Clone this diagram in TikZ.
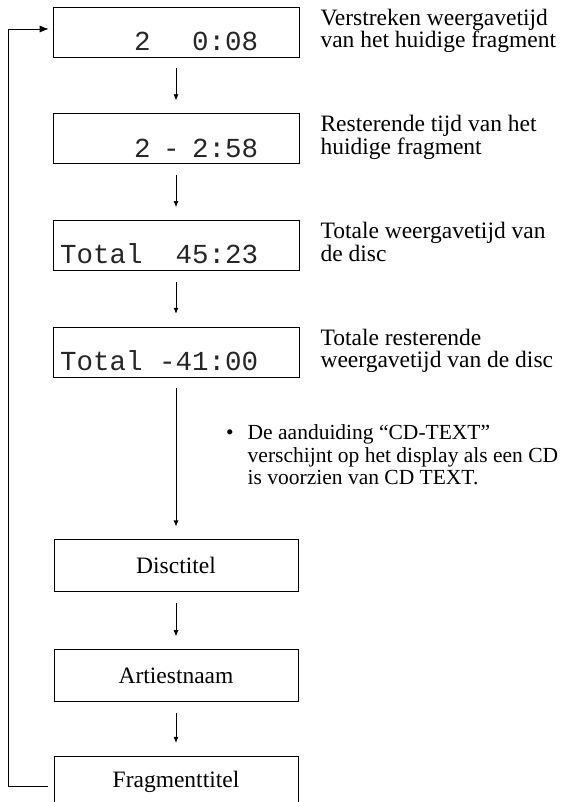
\documentclass[tikz,border=0pt]{standalone}
\usepackage{fontspec}
\setmainfont{Liberation Serif}
\newfontfamily\lcdfont{Liberation Mono}
\usetikzlibrary{positioning,arrows.meta}

\tikzset{
  lcd/.style={draw, line width=0.7pt, minimum width=246pt, minimum height=50pt, inner sep=0pt},
  lcdtext/.style={anchor=base east, inner sep=0pt, text=black!85, font=\lcdfont\fontsize{27.5}{27.5}\selectfont},
  titlebox/.style={draw, line width=0.7pt, minimum width=244pt, minimum height=52pt, inner sep=0pt, font=\fontsize{23.5}{23.5}\selectfont},
  info/.style={align=left, inner sep=0pt, font=\fontsize{23.5}{22.5}\selectfont},
  flow/.style={-{Latex[length=6pt,width=5pt]}, line width=0.7pt, shorten <=11pt, shorten >=13pt},
}

\begin{document}
\begin{tikzpicture}[x=1pt,y=-1pt,node distance=56pt]
\useasboundingbox (0,0) rectangle (561,802);
\clip (0,0) rectangle (561,802);
% display boxes
\node[lcd] (d1) at (176,32) {};
\node[lcd, below=of d1] (d2) {};
\node[lcd, below=of d2] (d3) {};
\node[lcd, below=of d3] (d4) {};
\node[lcdtext] (t1) at ([xshift=-41pt,yshift=7pt]d1.south east) {2\hspace{41.5pt}0:08};
\node[lcdtext] (t2) at ([xshift=-41pt,yshift=7pt]d2.south east) {2\hspace{12.5pt}-\hspace{12.5pt}2:58};
\node[lcdtext] (t3) at ([xshift=-41pt,yshift=7pt]d3.south east) {Total\ \ 45:23};
\node[lcdtext] (t4) at ([xshift=-41pt,yshift=7pt]d4.south east) {Total -41:00};
% explanations
\node[info, right=21pt of d1.north east, anchor=north west, yshift=-2pt] (l1) {Verstreken weergavetijd\\van het huidige fragment};
\node[info, right=21pt of d2.north east, anchor=north west, yshift=-2pt] (l2) {Resterende tijd van het\\huidige fragment};
\node[info, right=21pt of d3.north east, anchor=north west, yshift=-2pt] (l3) {Totale weergavetijd van\\de disc};
\node[info, right=21pt of d4.north east, anchor=north west, yshift=-2pt] (l4) {Totale resterende\\weergavetijd van de disc};
% text boxes
\node[titlebox, below=162pt of d4] (disc) {Disctitel};
\node[titlebox, below=57pt of disc] (artist) {Artiestnaam};
\node[titlebox, below=54pt of artist] (frag) {Fragmenttitel};
% note
\node[info, anchor=north west, font=\fontsize{21.5}{22.5}\selectfont] (note) at (226,424)
  {\begin{tabular}{@{}l@{\hspace{14pt}}l@{}}\textbullet & De aanduiding “CD-TEXT”\\
   & verschijnt op het display als een CD\\
   & is voorzien van CD TEXT.\end{tabular}};
% arrows
\draw[flow] (d1.south) -- (d2.north);
\draw[flow] (d2.south) -- (d3.north);
\draw[flow] (d3.south) -- (d4.north);
\draw[flow] (d4.south) -- (disc.north);
\draw[flow] (disc.south) -- (artist.north);
\draw[flow] (artist.south) -- (frag.north);
% back to the start
\coordinate (back) at (8,0);
\coordinate (fb0) at ([xshift=-6pt,yshift=-4pt]frag.west);
\coordinate (fb1) at ([xshift=-4pt,yshift=3pt]d1.west);
\draw[line width=0.7pt, -{Latex[length=9pt,width=7pt]}] (fb0) -- (back |- fb0) -- (back |- fb1) -- (fb1);
\end{tikzpicture}
\end{document}
